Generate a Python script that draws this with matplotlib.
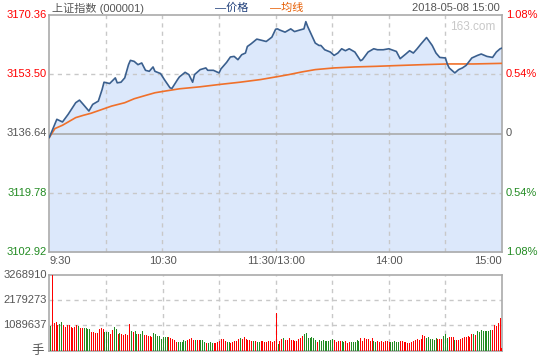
import numpy as np
import matplotlib
matplotlib.use("Agg")
import matplotlib.pyplot as plt

plt.rcParams['font.family'] = ['Liberation Sans', 'Noto Sans CJK SC', 'DejaVu Sans']

# -------------------------------
# Data (minutes since 9:30, lunch break removed)
# -------------------------------
price_min = [0, 4, 7, 10, 14, 16, 18, 21, 23, 26, 28, 29, 32, 35, 36, 38, 40, 42, 43, 45,
             47, 49, 51, 53, 55, 56, 59, 61, 64, 65, 68, 69, 72, 74, 76, 77, 80, 83, 84, 87,
             90, 91, 94, 96, 98, 100, 102, 104, 105, 107, 110, 113, 115, 118, 119, 120, 121, 122, 125, 128,
             130, 133, 135, 136, 137, 139, 141, 143, 144, 146, 149, 151, 153, 155, 157, 159, 162, 165, 166, 169,
             172, 174, 177, 180, 184, 186, 189, 191, 193, 195, 197, 200, 203, 205, 207, 210, 211, 212, 215, 217,
             219, 221, 224, 227, 229, 232, 235, 237, 239, 240]
price = [3135.51, 3140.68, 3139.92, 3142.10, 3145.40, 3146.14, 3144.92, 3143.03, 3144.92, 3145.86,
         3149.16, 3151.23, 3150.86, 3152.47, 3151.06, 3151.23, 3152.47, 3156.23, 3157.45, 3157.16,
         3156.23, 3156.71, 3154.62, 3154.34, 3155.58, 3154.34, 3153.69, 3151.99, 3149.64, 3149.45,
         3151.99, 3152.75, 3154.05, 3153.40, 3151.23, 3153.40, 3154.82, 3155.30, 3154.62, 3154.62,
         3153.88, 3155.02, 3156.88, 3158.41, 3158.58, 3157.64, 3159.06, 3159.54, 3161.40, 3162.17,
         3163.50, 3163.10, 3162.82, 3164.06, 3165.19, 3166.32, 3166.41, 3166.12, 3165.48, 3166.41,
         3165.64, 3166.12, 3166.41, 3168.47, 3167.06, 3164.71, 3162.37, 3161.69, 3161.69, 3160.47,
         3159.82, 3158.86, 3159.54, 3160.75, 3160.19, 3160.75, 3159.82, 3157.36, 3157.64, 3159.82,
         3160.75, 3160.47, 3160.47, 3160.75, 3159.99, 3157.93, 3159.26, 3160.19, 3159.54, 3160.75,
         3162.08, 3163.95, 3161.69, 3159.54, 3158.29, 3158.13, 3156.43, 3155.30, 3153.88, 3154.82,
         3155.30, 3156.03, 3158.13, 3158.86, 3159.26, 3158.58, 3158.29, 3159.82, 3160.75, 3160.95]

avg_min = [0, 3, 7, 10, 14, 18, 22, 27, 33, 40, 45, 51, 56, 61, 69, 80, 90, 101, 112, 122,
           127, 134, 141, 151, 162, 173, 183, 198, 211, 225, 240]
avg_price = [3135.51, 3138.05, 3138.99, 3139.92, 3141.16, 3141.81, 3142.38, 3143.31, 3144.44, 3145.40,
             3146.53, 3147.47, 3148.23, 3148.68, 3149.36, 3149.93, 3150.58, 3151.23, 3151.99, 3152.92,
             3153.40, 3154.17, 3154.82, 3155.30, 3155.58, 3155.75, 3155.95, 3156.23, 3156.43, 3156.43, 3156.60]

volume = [1066000, 3268910, 1180000, 1237000, 1109000, 1151000, 1237000, 1109000, 1023000, 1109000,
          1109000, 1023000, 995000, 1023000, 1109000, 1066000, 966000, 995000, 966000, 995000,
          938000, 938000, 810000, 810000, 782000, 753000, 938000, 981000, 938000, 824000,
          810000, 810000, 725000, 881000, 1023000, 938000, 725000, 767000, 725000, 682000,
          725000, 696000, 1137000, 853000, 810000, 853000, 725000, 739000, 711000, 853000,
          682000, 682000, 654000, 654000, 597000, 767000, 725000, 654000, 640000, 512000,
          597000, 597000, 597000, 597000, 569000, 512000, 469000, 398000, 384000, 384000,
          384000, 469000, 426000, 469000, 526000, 554000, 455000, 469000, 455000, 469000,
          469000, 455000, 370000, 355000, 355000, 384000, 341000, 327000, 355000, 398000,
          426000, 512000, 512000, 426000, 370000, 370000, 355000, 398000, 426000, 426000,
          512000, 569000, 512000, 597000, 512000, 469000, 469000, 426000, 426000, 426000,
          398000, 398000, 426000, 426000, 398000, 398000, 426000, 426000, 398000, 426000,
          1634000, 313000, 426000, 512000, 554000, 469000, 469000, 554000, 469000, 469000,
          426000, 426000, 512000, 554000, 640000, 725000, 767000, 554000, 554000, 597000,
          554000, 483000, 384000, 469000, 426000, 455000, 426000, 426000, 440000, 455000,
          526000, 469000, 384000, 426000, 426000, 426000, 384000, 426000, 355000, 370000,
          384000, 384000, 384000, 469000, 426000, 554000, 426000, 554000, 512000, 526000,
          426000, 554000, 426000, 398000, 426000, 384000, 426000, 384000, 426000, 426000,
          400000, 384000, 384000, 426000, 384000, 398000, 426000, 426000, 398000, 384000,
          355000, 355000, 398000, 426000, 469000, 526000, 469000, 512000, 682000, 640000,
          554000, 597000, 526000, 512000, 469000, 554000, 512000, 512000, 512000, 640000,
          725000, 540000, 597000, 597000, 597000, 483000, 455000, 469000, 512000, 554000,
          597000, 597000, 640000, 611000, 711000, 725000, 682000, 853000, 810000, 881000,
          853000, 860000, 870000, 870000, 881000, 910000, 1109000, 1052000, 1194000, 1407000,
          128000]
# r = up minute, g = down minute
vol_dir = ("grrrrggrrrrrrrrgrrggggrrrrrrrgggrrggrgrrrrrgrggrggrrrrrggggggggrrrrrgggggrrrrgrrgggrgggrrrrrrrggrrrrrgrrrrrrgrggrrrrrrrr"
           "rgrrgrrrrrrrrrrgggggggrggggggggrrrrggrrrgggggrrrrrrrggrrrrrrrgggggrrrrrrrrrrrrrrggggggrrrgggrrrgrrrrrrrrrgrggggggggrrrrrr")

prev_close = 3136.64
y_ticks = [3102.92, 3119.78, 3136.64, 3153.50, 3170.36]
pct_labels = ["1.08%", "0.54%", "0", "0.54%", "1.08%"]
vol_ticks = [1089637, 2179273, 3268910]
x_ticks = [0, 60, 120, 180, 240]
x_labels = ["9:30", "10:30", "11:30/13:00", "14:00", "15:00"]

RED = "#ff0000"
GREEN = "#228b22"
GRAY = "#555555"
BORDER = "#aaaaaa"
GRID = "#c8c8c8"

W, H = 540, 360
fig = plt.figure(figsize=(W / 100, H / 100), dpi=100)

def fx(px):
    return px / W

def fy(py):
    return 1 - py / H

ax = fig.add_axes([fx(49.3), fy(252), fx(502 - 49.3), fy(15) - fy(252)])
axv = fig.add_axes([fx(49.3), fy(351), fx(502 - 49.3), fy(274.5) - fy(351)])

# -------------------------------
# Price panel
# -------------------------------
ax.set_xlim(0, 240)
ax.set_ylim(y_ticks[0], y_ticks[-1])
ax.fill_between(price_min, price, y_ticks[0], color="#dce8fb", lw=0, zorder=1)
for m in range(30, 240, 30):
    ax.axvline(m, color=GRID, lw=1, ls=(0, (3, 3)), zorder=2)
for v in (y_ticks[1], y_ticks[3]):
    ax.axhline(v, color=GRID, lw=1, ls=(0, (3, 3)), zorder=2)
ax.axhline(prev_close, color=BORDER, lw=1.2, zorder=2)
ax.plot(price_min, price, color="#3a5f8e", lw=1.2, zorder=4)
ax.plot(avg_min, avg_price, color="#f0702a", lw=1.2, zorder=3)

ax.set_xticks([])
ax.set_yticks([])
for s in ax.spines.values():
    s.set_color(BORDER)
    s.set_linewidth(1.2)

left_cols = [GREEN, GREEN, GRAY, RED, RED]
right_cols = [GREEN, GREEN, GRAY, RED, RED]
for v, c, p, rc in zip(y_ticks, left_cols, pct_labels, right_cols):
    ax.text(-0.006, v, f"{v:.2f}", transform=ax.get_yaxis_transform(), ha="right", va="center",
            color=c, fontsize=8)
    ax.text(1.008, v, p, transform=ax.get_yaxis_transform(), ha="left", va="center",
            color=rc, fontsize=8)

for m, lab in zip(x_ticks, x_labels):
    ha = "left" if m == 0 else ("right" if m == 240 else "center")
    ax.text(m, -0.015, lab, transform=ax.get_xaxis_transform(), ha=ha, va="top",
            color=GRAY, fontsize=8)

ax.text(0.985, 0.975, "163.com", transform=ax.transAxes, ha="right", va="top",
        color="#c8c8c8", fontsize=8.5)

# header
fig.text(fx(52), fy(8), "上证指数 (000001)", ha="left", va="center", color=GRAY, fontsize=8)
fig.text(fx(215), fy(8), "—价格", ha="left", va="center", color="#1f3f7a", fontsize=8)
fig.text(fx(270), fy(8), "—均线", ha="left", va="center", color="#e65c00", fontsize=8)
fig.text(fx(500), fy(8), "2018-05-08 15:00", ha="right", va="center", color=GRAY, fontsize=8)

# -------------------------------
# Volume panel
# -------------------------------
idx = np.arange(len(volume))
colors = [RED if d == "r" else GREEN for d in vol_dir]
axv.vlines(idx, 0, volume, colors=colors, lw=0.6, antialiased=False, zorder=3)
axv.set_xlim(-0.3, 240.3)
axv.set_ylim(0, vol_ticks[-1])
for m in range(30, 240, 30):
    axv.axvline(m, color=GRID, lw=1, ls=(0, (3, 3)), zorder=1)
for v in vol_ticks[:2]:
    axv.axhline(v, color=GRID, lw=1, ls=(0, (3, 3)), zorder=1)
axv.set_xticks([])
axv.set_yticks([])
for s in axv.spines.values():
    s.set_color(BORDER)
    s.set_linewidth(1.2)
for v in vol_ticks:
    axv.text(-0.006, v, str(v), transform=axv.get_yaxis_transform(), ha="right", va="center",
             color=GRAY, fontsize=8)
axv.text(-0.012, 0, "手", transform=axv.get_yaxis_transform(), ha="right", va="center",
         color=GRAY, fontsize=9)

fig.savefig("out.png", dpi=100)
